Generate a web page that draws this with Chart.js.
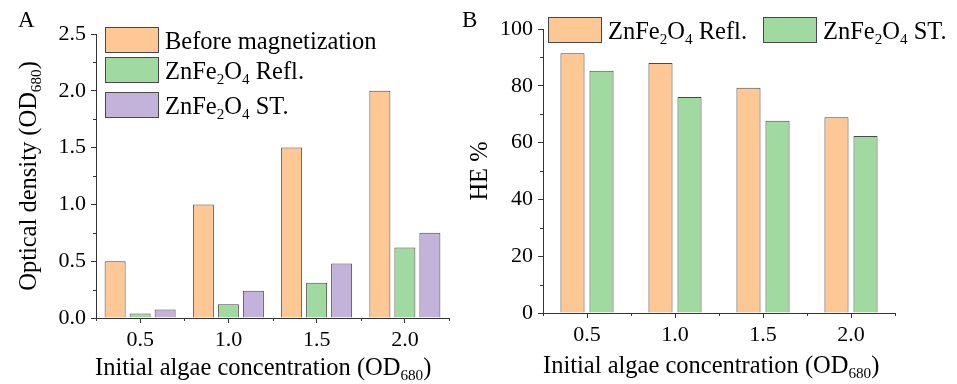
<!DOCTYPE html>
<html>
<head>
<meta charset="utf-8">
<script src="https://cdn.jsdelivr.net/npm/chart.js@4"></script>
<style>
  body { margin: 0; background: #fff; }
  #wrap { position: relative; width: 957px; height: 384px; }
  .box { position: absolute; top: 0; height: 384px; }
</style>
</head>
<body>
<div id="wrap">
  <div class="box" style="left:0;width:480px"><canvas id="chartA"></canvas></div>
  <div class="box" style="left:440px;width:517px"><canvas id="chartB"></canvas></div>
</div>
<script>
// x categories (initial OD680)
const concentrations = ["0.5", "1.0", "1.5", "2.0"];

// panel A: optical density
const beforeMag = [0.5, 1.0, 1.5, 2.0];
const odRefl = [0.04, 0.12, 0.31, 0.62];
const odST = [0.075, 0.24, 0.48, 0.75];
const yTicksA = [0, 0.5, 1.0, 1.5, 2.0, 2.5];

// panel B: harvesting efficiency
const heRefl = [91.5, 88.0, 79.3, 68.9];
const heST = [85.3, 76.1, 67.7, 62.3];
const yTicksB = [0, 20, 40, 60, 80, 100];

const ORANGE = "#fdc896";
const GREEN = "#a0daa0";
const PURPLE = "#c3b3da";
const EDGE = "#484848";
const AXIS = "#333333";
const SERIF = "'Liberation Serif', 'Times New Roman', serif";

// "ZnFe{2}O{4}" -> parts, braces mean subscript
function parse(str) {
  const out = [];
  const re = /\{([^}]*)\}|([^{]+)/g;
  let m;
  while ((m = re.exec(str))) {
    if (m[1] !== undefined) out.push([m[1], true]);
    else out.push([m[2], false]);
  }
  return out;
}

function richWidth(ctx, parts, size) {
  let w = 0;
  parts.forEach(p => {
    ctx.font = (p[1] ? size * 0.62 : size) + "px " + SERIF;
    w += ctx.measureText(p[0]).width;
  });
  return w;
}

function drawRich(ctx, str, x, y, size, align) {
  const parts = parse(str);
  let cx = x;
  if (align === "center") cx = x - richWidth(ctx, parts, size) / 2;
  ctx.fillStyle = "#000";
  ctx.textBaseline = "alphabetic";
  ctx.textAlign = "left";
  parts.forEach(p => {
    const s = p[1] ? size * 0.62 : size;
    ctx.font = s + "px " + SERIF;
    ctx.fillText(p[0], cx, p[1] ? y + size * 0.22 : y);
    cx += ctx.measureText(p[0]).width;
  });
}

// extras: minor ticks, axis titles, panel letter, legend inside plot
const extras = {
  id: "extras",
  afterDraw(chart, args, o) {
    const ctx = chart.ctx;
    const area = chart.chartArea;
    const xs = chart.scales.x, ys = chart.scales.y;
    ctx.save();
    ctx.strokeStyle = AXIS;
    ctx.lineWidth = 1;
    ctx.beginPath();
    o.minorY.forEach(v => {
      const py = Math.round(ys.getPixelForValue(v)) + 0.5;
      ctx.moveTo(area.left, py);
      ctx.lineTo(area.left - 3, py);
    });
    const n = xs.ticks.length;
    const step = xs.getPixelForTick(1) - xs.getPixelForTick(0);
    for (let i = 0; i <= n; i++) {
      const px = Math.round(xs.getPixelForTick(0) + (i - 0.5) * step) + 0.5;
      ctx.moveTo(px, area.bottom);
      ctx.lineTo(px, area.bottom + 3);
    }
    ctx.stroke();

    // x title
    drawRich(ctx, o.xTitle, o.xTitleX, o.xTitleY, 24.5, "left");
    // y title
    ctx.save();
    ctx.translate(o.yTitleX, (area.top + area.bottom) / 2);
    ctx.rotate(-Math.PI / 2);
    drawRich(ctx, o.yTitle, 0, 0, 24.5, "center");
    ctx.restore();
    // panel letter
    ctx.font = "23px " + SERIF;
    ctx.fillStyle = "#000";
    ctx.textAlign = "left";
    ctx.textBaseline = "alphabetic";
    ctx.fillText(o.letter, o.letterX, 27);

    // legend
    chart.data.datasets.forEach((ds, i) => {
      const pos = o.legend[i];
      ctx.fillStyle = ds.backgroundColor;
      ctx.fillRect(pos[0], pos[1], 54, 26);
      ctx.strokeStyle = EDGE;
      ctx.strokeRect(pos[0] + 0.5, pos[1] + 0.5, 53, 25);
      drawRich(ctx, ds.label, pos[0] + 60, pos[1] + 22, 24.5, "left");
    });
    ctx.restore();
  }
};

function makeChart(id, datasets, ticks, yMax, fmt, fit, barCfg, extraOpts) {
  return new Chart(document.getElementById(id), {
    type: "bar",
    data: { labels: concentrations, datasets: datasets },
    plugins: [extras],
    options: {
      responsive: true,
      maintainAspectRatio: false,
      animation: false,
      layout: { padding: { top: fit.top, right: fit.right, left: 0, bottom: 0 } },
      datasets: { bar: barCfg },
      plugins: {
        legend: { display: false },
        tooltip: { enabled: false },
        extras: extraOpts
      },
      scales: {
        x: {
          grid: { offset: false, drawOnChartArea: false, tickLength: 5, color: AXIS },
          border: { color: AXIS },
          ticks: { color: "#000", font: { family: SERIF, size: 22 }, padding: 4 },
          afterFit(s) { s.height = fit.xHeight; }
        },
        y: {
          min: 0,
          max: yMax,
          afterBuildTicks(s) { s.ticks = ticks.map(v => ({ value: v })); },
          grid: { drawOnChartArea: false, tickLength: 5, color: AXIS },
          border: { color: AXIS },
          ticks: { color: "#000", font: { family: SERIF, size: 22 }, padding: 5, callback: fmt },
          afterFit(s) { s.width = fit.yWidth; }
        }
      }
    }
  });
}

makeChart("chartA", [
  { label: "Before magnetization", data: beforeMag, backgroundColor: ORANGE, borderColor: EDGE, borderWidth: 1 },
  { label: "ZnFe{2}O{4} Refl.", data: odRefl, backgroundColor: GREEN, borderColor: EDGE, borderWidth: 1 },
  { label: "ZnFe{2}O{4} ST.", data: odST, backgroundColor: PURPLE, borderColor: EDGE, borderWidth: 1 }
], yTicksA, 2.5, v => Number(v).toFixed(1),
  { top: 34, right: 31, xHeight: 66, yWidth: 96 },
  { categoryPercentage: 0.85, barPercentage: 0.84 },
  {
    minorY: [0.25, 0.75, 1.25, 1.75, 2.25],
    xTitle: "Initial algae concentration (OD{680})", xTitleX: 95, xTitleY: 375,
    yTitle: "Optical density (OD{680})", yTitleX: 36,
    letter: "A", letterX: 18,
    legend: [[105, 27], [105, 57], [105, 92]]
  });

makeChart("chartB", [
  { label: "ZnFe{2}O{4} Refl.", data: heRefl, backgroundColor: ORANGE, borderColor: EDGE, borderWidth: 1 },
  { label: "ZnFe{2}O{4} ST.", data: heST, backgroundColor: GREEN, borderColor: EDGE, borderWidth: 1 }
], yTicksB, 100, v => String(v),
  { top: 29, right: 62, xHeight: 71, yWidth: 103 },
  { categoryPercentage: 0.66, barPercentage: 0.83 },
  {
    minorY: [10, 30, 50, 70, 90],
    xTitle: "Initial algae concentration (OD{680})", xTitleX: 103, xTitleY: 373,
    yTitle: "HE %", yTitleX: 47,
    letter: "B", letterX: 22,
    legend: [[108, 17], [323, 17]]
  });
</script>
</body>
</html>
